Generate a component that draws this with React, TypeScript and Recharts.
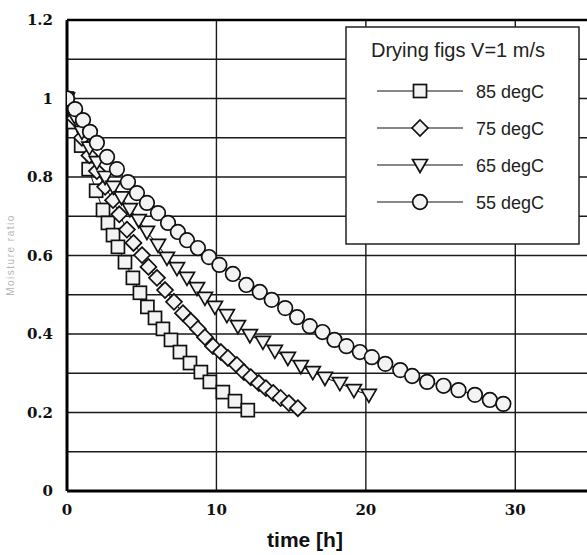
import React from 'react';
import { LineChart, Line, XAxis, YAxis, CartesianGrid, ReferenceLine } from 'recharts';

// ---- data (time [h], moisture ratio) ----
const t85 = [0, 0.45, 0.95, 1.45, 1.95, 2.41, 2.74, 3.08, 3.41, 3.88, 4.41, 4.88, 5.38, 5.89, 6.42, 6.96, 7.56, 8.23, 8.96, 9.56, 10.43, 11.24, 12.1];
const v85 = [1.0, 0.94, 0.88, 0.82, 0.765, 0.716, 0.683, 0.652, 0.622, 0.583, 0.543, 0.505, 0.469, 0.441, 0.413, 0.385, 0.354, 0.326, 0.303, 0.278, 0.252, 0.229, 0.206];

const t75 = [0, 0.5, 1.0, 1.5, 2.0, 2.55, 3.08, 3.5, 4.01, 4.45, 5.02, 5.45, 6.02, 6.56, 7.16, 7.76, 8.29, 8.76, 9.23, 9.77, 10.3, 10.77, 11.37, 11.84, 12.3, 12.84, 13.31, 13.8, 14.3, 14.85, 15.45];
const v75 = [1.0, 0.95, 0.9, 0.855, 0.815, 0.775, 0.741, 0.705, 0.666, 0.632, 0.601, 0.571, 0.543, 0.512, 0.482, 0.453, 0.433, 0.413, 0.392, 0.369, 0.354, 0.339, 0.321, 0.303, 0.29, 0.275, 0.262, 0.25, 0.237, 0.224, 0.211];

const t65 = [0, 0.5, 1.0, 1.5, 2.0, 2.55, 3.1, 3.65, 4.21, 4.8, 5.35, 6.09, 6.69, 7.36, 8.03, 8.7, 9.23, 9.9, 10.7, 11.44, 12.24, 13.11, 13.91, 14.78, 15.65, 16.45, 17.26, 18.26, 19.2, 20.2];
const v65 = [1.0, 0.955, 0.915, 0.875, 0.838, 0.8, 0.775, 0.748, 0.718, 0.69, 0.66, 0.627, 0.594, 0.568, 0.543, 0.517, 0.492, 0.469, 0.448, 0.42, 0.397, 0.38, 0.357, 0.339, 0.318, 0.303, 0.288, 0.275, 0.257, 0.245];

const t55 = [0, 0.54, 1.07, 1.54, 2.0, 2.68, 3.34, 4.08, 4.68, 5.35, 6.09, 6.76, 7.42, 8.03, 8.76, 9.5, 10.2, 11.1, 12.0, 12.9, 13.7, 14.6, 15.4, 16.25, 17.1, 17.9, 18.7, 19.6, 20.4, 21.3, 22.3, 23.1, 24.1, 25.2, 26.2, 27.3, 28.3, 29.2];
const v55 = [1.0, 0.973, 0.945, 0.915, 0.887, 0.851, 0.82, 0.787, 0.759, 0.734, 0.708, 0.683, 0.66, 0.639, 0.619, 0.596, 0.576, 0.553, 0.525, 0.507, 0.487, 0.466, 0.443, 0.42, 0.405, 0.385, 0.369, 0.354, 0.341, 0.324, 0.308, 0.293, 0.278, 0.268, 0.257, 0.245, 0.232, 0.222];

const seriesNames = ['85 degC', '75 degC', '65 degC', '55 degC'];
const seriesShapes = ['square', 'diamond', 'triangle', 'circle'];
const seriesTimes = [t85, t75, t65, t55];
const seriesValues = [v85, v75, v65, v55];

const xTicks = [0, 10, 20, 30];
const yTicks = [0, 0.1, 0.2, 0.3, 0.4, 0.5, 0.6, 0.7, 0.8, 0.9, 1.0, 1.1, 1.2];
const yTickLabels = ['0', '', '0.2', '', '0.4', '', '0.6', '', '0.8', '', '1', '', '1.2'];
const xTickLabels = ['0', '10', '20', '30'];

const legendTitle = 'Drying figs V=1 m/s';
const xTitle = 'time [h]';
const yTitle = 'Moisture ratio';

const series = seriesNames.map((name, i) => ({
  name,
  shape: seriesShapes[i],
  data: seriesTimes[i].map((t, j) => ({ t, v: seriesValues[i][j] })),
}));

const MARK_FILL = '#f3f3f3';
const MARK_STROKE = '#111';

function Marker({ shape, cx, cy }: { shape: string; cx: number; cy: number }) {
  if (cx == null || cy == null || isNaN(cx) || isNaN(cy)) return null;
  const common = { fill: MARK_FILL, stroke: MARK_STROKE, strokeWidth: 1.7 };
  switch (shape) {
    case 'square':
      return <rect x={cx - 6.5} y={cy - 6.5} width={13} height={13} {...common} />;
    case 'diamond':
      return <polygon points={`${cx},${cy - 8} ${cx + 8},${cy} ${cx},${cy + 8} ${cx - 8},${cy}`} {...common} />;
    case 'triangle':
      return <polygon points={`${cx - 7.5},${cy - 5.5} ${cx + 7.5},${cy - 5.5} ${cx},${cy + 7.5}`} {...common} />;
    default:
      return <circle cx={cx} cy={cy} r={7.3} {...common} />;
  }
}

const tickFont = { fontFamily: '"DejaVu Serif", serif', fontWeight: 700, fontSize: 15, fill: '#111' };

export default function App() {
  const legendRows = [91, 128, 165, 202];
  return (
    <div style={{ position: 'absolute', left: 0, top: 0, width: 587, height: 555, overflow: 'hidden', background: '#fff' }}>
      <LineChart width={595} height={555} margin={{ top: 20, right: 5, left: 0, bottom: 34 }}>
        <CartesianGrid stroke="#1a1a1a" strokeWidth={1.4} />
        <XAxis
          type="number"
          dataKey="t"
          domain={[0, 35]}
          ticks={xTicks}
          interval={0}
          allowDataOverflow
          height={30}
          tickSize={0}
          tickMargin={13}
          tickFormatter={(v: number, i: number) => xTickLabels[i] ?? String(v)}
          axisLine={{ stroke: '#000', strokeWidth: 3 }}
          tickLine={false}
          tick={tickFont}
        />
        <YAxis
          type="number"
          domain={[0, 1.2]}
          ticks={yTicks}
          interval={0}
          allowDataOverflow
          width={67}
          tickSize={0}
          tickMargin={14}
          tickFormatter={(v: number, i: number) => yTickLabels[i] ?? ''}
          axisLine={{ stroke: '#000', strokeWidth: 3 }}
          tickLine={false}
          tick={tickFont}
        />
        <ReferenceLine y={1.2} stroke="#000" strokeWidth={2.5} />
        {series.map((s) => (
          <Line
            key={s.name}
            data={s.data}
            dataKey="v"
            name={s.name}
            type="linear"
            stroke="#111"
            strokeWidth={1}
            isAnimationActive={false}
            dot={(p: any) => <Marker key={`${s.shape}-${p.index}`} shape={s.shape} cx={p.cx} cy={p.cy} />}
            activeDot={false}
          />
        ))}
      </LineChart>
      <svg width={587} height={555} style={{ position: 'absolute', left: 0, top: 0, pointerEvents: 'none' }}>
        <rect x={346} y={27} width={233} height={217} fill="#fff" stroke="#222" strokeWidth={1.5} />
        <text x={458} y={57} textAnchor="middle" fontFamily='"Liberation Sans", Arial, sans-serif' fontSize={20} fill="#222">
          {legendTitle}
        </text>
        {series.map((s, i) => (
          <g key={s.name}>
            <line x1={377} x2={463} y1={legendRows[i]} y2={legendRows[i]} stroke="#111" strokeWidth={1.2} />
            <Marker shape={s.shape} cx={420} cy={legendRows[i]} />
            <text x={476} y={legendRows[i] + 6.5} fontFamily='"Liberation Sans", Arial, sans-serif' fontSize={18} fill="#222">
              {s.name}
            </text>
          </g>
        ))}
        <text x={305} y={547} textAnchor="middle" fontFamily='"Liberation Sans", Arial, sans-serif' fontWeight={700} fontSize={21} fill="#111">
          {xTitle}
        </text>
        <text
          transform="translate(14,255) rotate(-90)"
          textAnchor="middle"
          fontFamily='"Liberation Sans", Arial, sans-serif'
          fontSize={10}
          letterSpacing={1.5}
          fill="#b5b5b5"
        >
          {yTitle}
        </text>
      </svg>
    </div>
  );
}
